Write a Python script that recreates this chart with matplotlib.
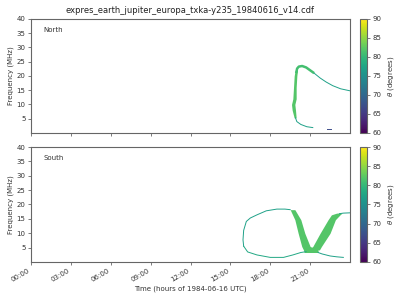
import numpy as np
import matplotlib
matplotlib.use("Agg")
import matplotlib.pyplot as plt
from matplotlib.cm import ScalarMappable
from matplotlib.colors import Normalize

# ---------------- data ----------------
title = "expres_earth_jupiter_europa_txka-y235_19840616_v14.cdf"
xtick_hours = [0, 3, 6, 9, 12, 15, 18, 21]
xtick_labels = ["00:00", "03:00", "06:00", "09:00", "12:00", "15:00", "18:00", "21:00"]
ytick_vals = [5, 10, 15, 20, 25, 30, 35, 40]
cbar_ticks = [60, 65, 70, 75, 80, 85, 90]

# North: thin traces (hours, MHz, theta deg)
north_cap_t = [19.95, 20.02, 20.15, 20.4, 20.7, 21.0, 21.3]
north_cap_f = [21.0, 22.6, 23.3, 23.5, 23.0, 22.0, 21.0]
north_cap_theta = 81
north_tail_t = [21.3, 21.75, 22.2, 22.7, 23.3, 24.0]
north_tail_f = [21.0, 19.3, 17.9, 16.6, 15.5, 14.8]
north_tail_theta = 77
north_bot_t = [19.9, 20.0, 20.3, 20.75, 21.2]
north_bot_f = [5.3, 4.0, 3.0, 2.2, 1.9]
north_bot_theta = 77
north_dash_t = [22.25, 22.6]
north_dash_f = [1.5, 1.5]
north_dash_theta = 67
# North: thick band (freq, left time, right time)
north_band_f = [5.3, 8.0, 10.0, 12.0, 16.0, 20.0, 22.0]
north_band_l = [19.8, 19.65, 19.6, 19.7, 19.75, 19.8, 19.87]
north_band_r = [19.95, 19.9, 19.85, 19.95, 19.95, 20.0, 20.05]
north_band_theta = 82

# South: thin traces
south_loop_t = [19.5, 19.1, 18.5, 17.7, 17.0, 16.5, 16.2, 16.0, 15.95, 16.0]
south_loop_f = [18.2, 18.4, 18.4, 17.8, 16.4, 15.3, 14.1, 11.0, 7.7, 5.5]
south_loop_theta = 77
south_bot_t = [16.0, 16.3, 17.0, 18.0, 19.0, 19.7, 20.3, 20.7]
south_bot_f = [5.5, 3.5, 2.45, 1.6, 1.6, 2.45, 3.3, 3.6]
south_bot_theta = 78
south_tail_t = [21.6, 21.9, 22.5, 23.0, 23.5]
south_tail_f = [3.3, 2.8, 2.1, 1.8, 1.6]
south_tail_theta = 77
south_right_t = [23.2, 23.5, 24.0]
south_right_f = [16.8, 17.0, 17.1]
south_right_theta = 77
# South: thick bands
south_lband_f = [3.3, 4.2, 5.4, 10.0, 14.7, 18.2]
south_lband_l = [20.55, 20.5, 20.37, 20.1, 19.85, 19.5]
south_lband_r = [21.6, 21.6, 21.0, 20.6, 20.3, 19.85]
south_rband_f = [4.2, 5.4, 10.0, 14.7, 16.4, 17.0]
south_rband_l = [20.9, 21.2, 21.75, 22.35, 22.6, 23.0]
south_rband_r = [21.7, 21.85, 22.5, 22.9, 23.25, 23.4]
south_band_theta = 82

# ---------------- figure ----------------
cmap = plt.get_cmap("viridis")
norm = Normalize(vmin=60, vmax=90)
def col(th):
    return cmap(norm(th))

fig = plt.figure(figsize=(4, 3), dpi=100)
ax1 = fig.add_axes([0.0775, 0.5567, 0.7975, 0.38])
ax2 = fig.add_axes([0.0775, 0.1267, 0.7975, 0.3833])
cax1 = fig.add_axes([0.9, 0.5567, 0.0175, 0.38])
cax2 = fig.add_axes([0.9, 0.1267, 0.0175, 0.3833])

fs = 5
spine_c = "#666666"
for ax in (ax1, ax2):
    ax.set_xlim(0, 24)
    ax.set_ylim(0, 40)
    ax.set_xticks(xtick_hours)
    ax.set_yticks(ytick_vals)
    ax.tick_params(labelsize=fs, length=2.5, width=0.6, pad=1.5, color=spine_c, labelcolor="#333333")
    for s in ax.spines.values():
        s.set_color(spine_c)
        s.set_linewidth(0.8)
    ax.set_ylabel("Frequency (MHz)", fontsize=fs, labelpad=2, color="#333333")

ax1.set_xticklabels([])
ax2.set_xticklabels(xtick_labels, rotation=30, ha="right")
ax2.set_xlabel("Time (hours of 1984-06-16 UTC)", fontsize=fs, labelpad=2, color="#333333")
ax1.set_title(title, fontsize=6, pad=4, color="#222222")
ax1.text(0.04, 0.9, "North", transform=ax1.transAxes, fontsize=fs, va="center", color="#333333")
ax2.text(0.04, 0.9, "South", transform=ax2.transAxes, fontsize=fs, va="center", color="#333333")

lw = 0.7
# North
ax1.fill_betweenx(north_band_f, north_band_l, north_band_r, color=col(north_band_theta), lw=0)
ax1.plot(north_cap_t, north_cap_f, color=col(north_cap_theta), lw=1.8, solid_capstyle="butt")
ax1.plot(north_tail_t, north_tail_f, color=col(north_tail_theta), lw=lw)
ax1.plot(north_bot_t, north_bot_f, color=col(north_bot_theta), lw=lw)
ax1.plot(north_dash_t, north_dash_f, color=col(north_dash_theta), lw=lw)

# South
ax2.plot(south_loop_t, south_loop_f, color=col(south_loop_theta), lw=lw)
ax2.plot(south_bot_t, south_bot_f, color=col(south_bot_theta), lw=lw)
ax2.plot(south_tail_t, south_tail_f, color=col(south_tail_theta), lw=lw)
ax2.plot(south_right_t, south_right_f, color=col(south_right_theta), lw=lw)
ax2.fill_betweenx(south_lband_f, south_lband_l, south_lband_r, color=col(south_band_theta), lw=0)
ax2.fill_betweenx(south_rband_f, south_rband_l, south_rband_r, color=col(south_band_theta), lw=0)

for cax in (cax1, cax2):
    sm = ScalarMappable(norm=norm, cmap=cmap)
    cb = fig.colorbar(sm, cax=cax, ticks=cbar_ticks)
    cb.ax.tick_params(labelsize=fs, length=2.5, width=0.6, pad=1.5, color=spine_c, labelcolor="#333333")
    cb.outline.set_edgecolor(spine_c)
    cb.outline.set_linewidth(0.8)
    cb.set_label(r"$\theta$ (degrees)", fontsize=fs, labelpad=3, color="#333333")

fig.savefig("out.png", dpi=100)
